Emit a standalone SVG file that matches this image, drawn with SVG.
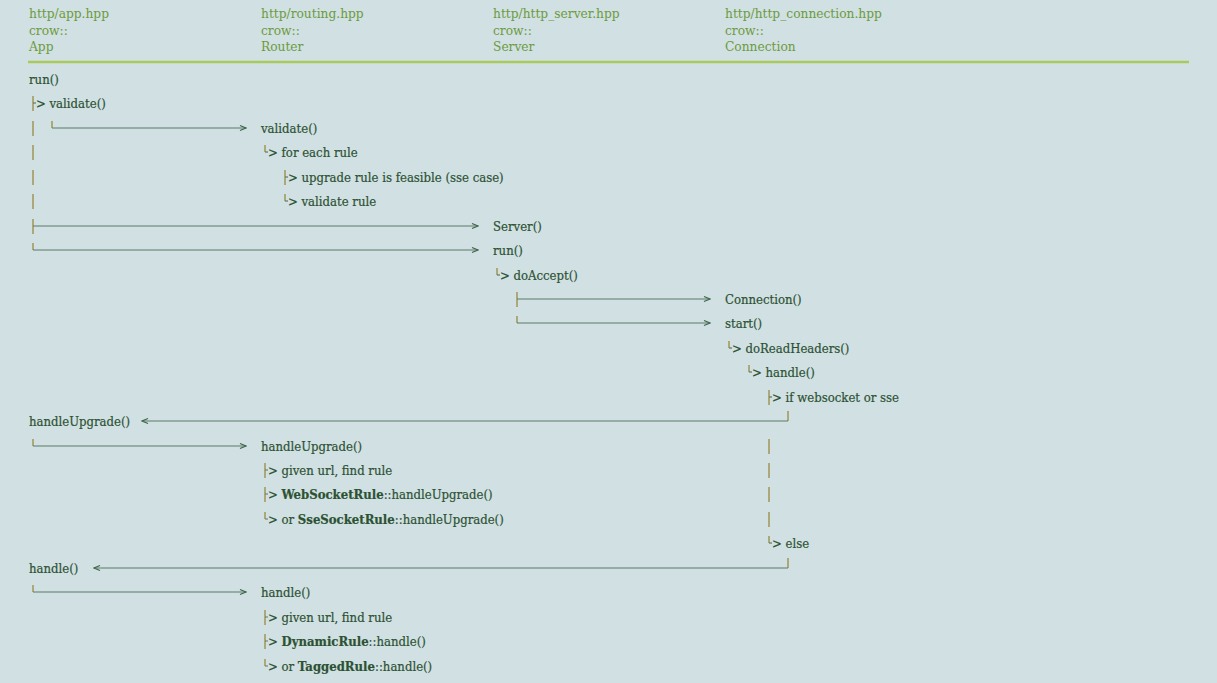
<svg xmlns="http://www.w3.org/2000/svg" width="1217" height="683" viewBox="0 0 1217 683">
<defs>
<style>
.bg{fill:#d1e0e3}
.hd{font-family:"DejaVu Serif","Liberation Serif",serif;font-stretch:condensed;font-size:13.6px;fill:#6b9b3d}
.t{font-family:"DejaVu Serif","Liberation Serif",serif;font-stretch:condensed;font-size:13px;fill:#2c5233;stroke:#2c5233;stroke-width:0.2}
.b{font-weight:bold}
.h{stroke:#5b7b68;stroke-width:1.2;fill:none}
.v{stroke:#9a8a42;stroke-width:1.3;fill:none}
.rule{stroke:#a9c95b;stroke-width:2.5}
</style>
<marker id="chev" viewBox="0 0 8 8" refX="7" refY="4" markerWidth="8" markerHeight="8" markerUnits="userSpaceOnUse" orient="auto-start-reverse">
<path d="M1,1.5 L7,4 L1,6.5" fill="none" stroke="#3e6448" stroke-width="1.2"/>
</marker>
</defs>
<rect class="bg" x="0" y="0" width="1217" height="683"/>
<g id="header">
<g id="col-app"><text class="hd" x="29" y="18">http/app.hpp</text><text class="hd" x="29" y="35">crow::</text><text class="hd" x="29" y="51">App</text></g>
<g id="col-router"><text class="hd" x="261" y="18">http/routing.hpp</text><text class="hd" x="261" y="35">crow::</text><text class="hd" x="261" y="51">Router</text></g>
<g id="col-server"><text class="hd" x="493" y="18">http/http_server.hpp</text><text class="hd" x="493" y="35">crow::</text><text class="hd" x="493" y="51">Server</text></g>
<g id="col-conn"><text class="hd" x="725" y="18">http/http_connection.hpp</text><text class="hd" x="725" y="35">crow::</text><text class="hd" x="725" y="51">Connection</text></g>
<line class="rule" x1="28" y1="62" x2="1189" y2="62"/>
</g>
<g id="connectors">
<path class="v" d="M33,96V111M33,121V136M33,145V160M33,170V185M33,194V209M33,219V234M33,243V250"/>
<path class="h" d="M33,103H36"/>
<path class="v" d="M52,121V128"/><path class="h" d="M52,128H246" marker-end="url(#chev)"/>
<path class="v" d="M265,145V152"/><path class="h" d="M265,152H268"/>
<path class="v" d="M285,170V185"/><path class="h" d="M285,177H288"/>
<path class="v" d="M285,194V201"/><path class="h" d="M285,201H288"/>
<path class="h" d="M33,226H478" marker-end="url(#chev)"/>
<path class="h" d="M33,250H478" marker-end="url(#chev)"/>
<path class="v" d="M497,268V275"/><path class="h" d="M497,275H500"/>
<path class="v" d="M517,292V307M517,316V323"/>
<path class="h" d="M517,299H710" marker-end="url(#chev)"/>
<path class="h" d="M517,323H710" marker-end="url(#chev)"/>
<path class="v" d="M729,341V348"/><path class="h" d="M729,348H732"/>
<path class="v" d="M749,365V372"/><path class="h" d="M749,372H752"/>
<path class="v" d="M769,390V405"/><path class="h" d="M769,397H772"/>
<path class="v" d="M788,411V421"/><path class="h" d="M788,421H142" marker-end="url(#chev)"/>
<path class="v" d="M33,439V446"/><path class="h" d="M33,446H246" marker-end="url(#chev)"/>
<path class="v" d="M769,439V454M769,463V478M769,487V502M769,512V527M769,536V543"/>
<path class="h" d="M769,543H772"/>
<path class="v" d="M265,463V478M265,487V502M265,512V519"/>
<path class="h" d="M265,470H268M265,494H268M265,519H268"/>
<path class="v" d="M788,558V568"/><path class="h" d="M788,568H94" marker-end="url(#chev)"/>
<path class="v" d="M33,585V592"/><path class="h" d="M33,592H246" marker-end="url(#chev)"/>
<path class="v" d="M265,610V625M265,634V649M265,659V666"/>
<path class="h" d="M265,617H268M265,641H268M265,666H268"/>
</g>
<g id="app-calls">
<text class="t" x="29" y="84">run()</text>
<text class="t" x="36" y="108">&gt; validate()</text>
<text class="t" x="29" y="426">handleUpgrade()</text>
<text class="t" x="29" y="573">handle()</text>
</g>
<g id="router-calls">
<text class="t" x="261" y="133">validate()</text>
<text class="t" x="268" y="157">&gt; for each rule</text>
<text class="t" x="288" y="182">&gt; upgrade rule is feasible (sse case)</text>
<text class="t" x="288" y="206">&gt; validate rule</text>
<text class="t" x="261" y="451">handleUpgrade()</text>
<text class="t" x="268" y="475">&gt; given url, find rule</text>
<text class="t" x="268" y="499">&gt; <tspan class="b">WebSocketRule</tspan>::handleUpgrade()</text>
<text class="t" x="268" y="524">&gt; or <tspan class="b">SseSocketRule</tspan>::handleUpgrade()</text>
<text class="t" x="261" y="597">handle()</text>
<text class="t" x="268" y="622">&gt; given url, find rule</text>
<text class="t" x="268" y="646">&gt; <tspan class="b">DynamicRule</tspan>::handle()</text>
<text class="t" x="268" y="671">&gt; or <tspan class="b">TaggedRule</tspan>::handle()</text>
</g>
<g id="server-calls">
<text class="t" x="493" y="231">Server()</text>
<text class="t" x="493" y="255">run()</text>
<text class="t" x="500" y="280">&gt; doAccept()</text>
</g>
<g id="connection-calls">
<text class="t" x="725" y="304">Connection()</text>
<text class="t" x="725" y="328">start()</text>
<text class="t" x="732" y="353">&gt; doReadHeaders()</text>
<text class="t" x="752" y="377">&gt; handle()</text>
<text class="t" x="772" y="402">&gt; if websocket or sse</text>
<text class="t" x="772" y="548">&gt; else</text>
</g>
</svg>
